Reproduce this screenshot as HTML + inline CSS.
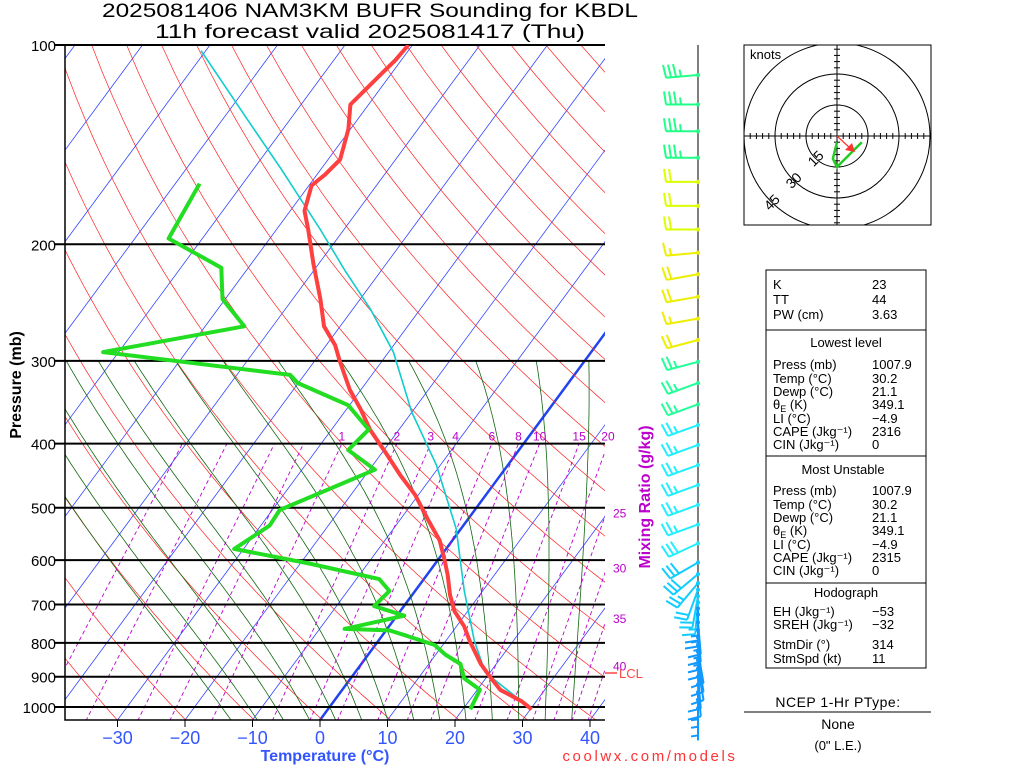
<!DOCTYPE html>
<html><head><meta charset="utf-8"><style>
html,body{margin:0;padding:0;background:#fff;}
svg{display:block;font-family:"Liberation Sans",sans-serif;}
</style></head><body>
<svg id="chart" width="1024" height="768" viewBox="0 0 1024 768" xmlns="http://www.w3.org/2000/svg">
<rect x="0" y="0" width="1024" height="768" fill="#fff"/>
<defs><clipPath id="plotclip"><rect x="65" y="45" width="540" height="675"/></clipPath>
<clipPath id="hodoclip"><rect x="744" y="45" width="187" height="180"/></clipPath></defs>
<g id="bg" clip-path="url(#plotclip)"></g>
<g id="grid"></g>
<g id="series" clip-path="url(#plotclip)"></g>
<g id="labels"></g>
<g id="winds"></g>
<g id="hodo"></g>
<text x="370" y="17" text-anchor="middle" font-size="19" textLength="536" lengthAdjust="spacingAndGlyphs">2025081406 NAM3KM BUFR Sounding for KBDL</text>
<text x="370" y="38" text-anchor="middle" font-size="19" textLength="430" lengthAdjust="spacingAndGlyphs">11h forecast valid 2025081417 (Thu)</text>
<text transform="translate(21,385) rotate(-90)" text-anchor="middle" font-size="16" font-weight="bold">Pressure (mb)</text>
<text x="325" y="761" text-anchor="middle" font-size="16" font-weight="bold" fill="#3355ff">Temperature (°C)</text>
<text x="650" y="761" text-anchor="middle" font-size="15" fill="#ff3333" letter-spacing="2.6">coolwx.com/models</text>
<text transform="translate(650,497) rotate(-90)" text-anchor="middle" font-size="16" font-weight="bold" fill="#bb00cc">Mixing Ratio (g/kg)</text>
<line x1="605" y1="673" x2="617" y2="673" stroke="#ff4444" stroke-width="1.5"/>
<text x="619" y="678" font-size="13" fill="#ff4444">LCL</text>
<g id="infobox" font-size="13">
<rect x="766" y="270" width="160" height="398" fill="none" stroke="#000" stroke-width="1"/>
<line x1="766" y1="330" x2="926" y2="330" stroke="#000"/>
<line x1="766" y1="456" x2="926" y2="456" stroke="#000"/>
<line x1="766" y1="583" x2="926" y2="583" stroke="#000"/>
<text x="773" y="289">K</text><text x="872" y="289">23</text>
<text x="773" y="304">TT</text><text x="872" y="304">44</text>
<text x="773" y="319">PW (cm)</text><text x="872" y="319">3.63</text>
<text x="846" y="347" text-anchor="middle">Lowest level</text>
<text x="773" y="369">Press (mb)</text><text x="872" y="369">1007.9</text>
<text x="773" y="383">Temp (°C)</text><text x="872" y="383">30.2</text>
<text x="773" y="396">Dewp (°C)</text><text x="872" y="396">21.1</text>
<text x="773" y="409">θ<tspan font-size="9" dy="3">E</tspan><tspan dy="-3"> (K)</tspan></text><text x="872" y="409">349.1</text>
<text x="773" y="423">LI (°C)</text><text x="872" y="423">−4.9</text>
<text x="773" y="436">CAPE (Jkg⁻¹)</text><text x="872" y="436">2316</text>
<text x="773" y="449">CIN (Jkg⁻¹)</text><text x="872" y="449">0</text>
<text x="843" y="474" text-anchor="middle">Most Unstable</text>
<text x="773" y="495">Press (mb)</text><text x="872" y="495">1007.9</text>
<text x="773" y="509">Temp (°C)</text><text x="872" y="509">30.2</text>
<text x="773" y="522">Dewp (°C)</text><text x="872" y="522">21.1</text>
<text x="773" y="535">θ<tspan font-size="9" dy="3">E</tspan><tspan dy="-3"> (K)</tspan></text><text x="872" y="535">349.1</text>
<text x="773" y="549">LI (°C)</text><text x="872" y="549">−4.9</text>
<text x="773" y="562">CAPE (Jkg⁻¹)</text><text x="872" y="562">2315</text>
<text x="773" y="575">CIN (Jkg⁻¹)</text><text x="872" y="575">0</text>
<text x="846" y="597" text-anchor="middle">Hodograph</text>
<text x="773" y="616">EH (Jkg⁻¹)</text><text x="872" y="616">−53</text>
<text x="773" y="629">SREH (Jkg⁻¹)</text><text x="872" y="629">−32</text>
<text x="773" y="649">StmDir (°)</text><text x="872" y="649">314</text>
<text x="773" y="663">StmSpd (kt)</text><text x="872" y="663">11</text>
</g>
<text x="838" y="707" text-anchor="middle" font-size="14" letter-spacing="0.5">NCEP 1-Hr PType:</text>
<line x1="744" y1="712" x2="931" y2="712" stroke="#000"/>
<text x="838" y="729" text-anchor="middle" font-size="14">None</text>
<text x="838" y="750" text-anchor="middle" font-size="13">(0" L.E.)</text>
<script>
// ---- data ----
const tempP = [1008,980,942,905,861,794,755,716,677,632,600,560,522,478,446,414,381,355,332,300,284,266,242,214,190,178,163,157,149,134,123,117,111,105.5,100];
const tempT = [30.2,27.8,23.4,20.8,17.7,13.5,11.1,8.0,5.6,3.1,1.0,-1.9,-5.8,-10.5,-14.9,-19.3,-24.3,-27.9,-31.6,-36.3,-38.7,-42.4,-45.9,-50.8,-55.3,-57.9,-59.6,-58.8,-58.2,-60.3,-62.7,-62.1,-61.5,-60.9,-60.6];
const dewP = [1008,942,905,861,833,806,779,766,762,728,704,668,641,607,577,532,504,438,409,381,350,324,315,291,266,242,217,196,162];
const dewT = [21.1,20.4,16.8,14.7,11.4,8.8,3.3,0.5,-6.3,1.1,-4.4,-3.8,-6.6,-18.7,-31.4,-28.7,-28.9,-19.2,-25.3,-24.5,-30.2,-40.1,-42.1,-72.3,-54.2,-60.4,-64.0,-75.0,-76.4];
const parcelP = [1008,887,794,668,538,431,358,291,251,219,190,154,129,102];
const parcelT = [30.2,19.3,14.2,7.3,-0.7,-10.6,-20.1,-29.3,-37.3,-45.4,-53.5,-65.9,-76.6,-90.7];
const pLevels = [100,200,300,400,500,600,700,800,900,1000];
const tTicks = [-30,-20,-10,0,10,20,30,40];
const mixRatios = [1,2,3,4,6,8,10,15,20,25,30,35,40];
const windP = [111,123,135,148,161,175,190,206,222,240,259,279,301,324,349,375,402,431,462,495,530,566,605,630,650,665,680,695,710,725,745,765,785,805,825,850,875,900,925,950,975,1005];
const windSpd = [35,35,35,35,20,20,20,15,20,20,15,20,25,25,25,25,25,25,25,25,25,30,30,30,25,20,20,15,15,15,15,15,15,10,10,10,10,10,10,5,5,5];
const windDir = [265,270,270,270,270,270,270,265,260,260,260,255,255,250,250,250,250,250,250,250,250,245,240,230,220,200,190,185,180,180,175,175,175,175,170,170,170,175,175,180,180,180];
const hodoU = [0,-2,0,7,12];
const hodoV = [-3,-11,-15,-8,-3];

// ---- axes ----
const NS='http://www.w3.org/2000/svg';
function yP(p){return 45+662*Math.log10(p/100);}
function xT(T,p){return 320+6.75*T+(720-yP(p))*0.737;}
function mk(tag,attrs,parent){const e=document.createElementNS(NS,tag);for(const k in attrs)e.setAttribute(k,attrs[k]);parent.appendChild(e);return e;}
function pathOf(ps,ts){return ps.map((p,i)=>(i?'L':'M')+xT(ts[i],p).toFixed(1)+','+yP(p).toFixed(1)).join('');}
const bg=document.getElementById('bg'), grid=document.getElementById('grid'), series=document.getElementById('series'), labels=document.getElementById('labels');

for(let T=-160;T<=40;T+=10){
  const l=mk('line',{x1:xT(T,1050),y1:yP(1050),x2:xT(T,100),y2:yP(100),stroke:T===0?'#2244ee':'#3344ff','stroke-width':T===0?2.5:0.8},bg);
  
  
}
for(let th=200;th<=600;th+=10){
  let d='';for(let p=1050;p>=100;p-=10){const T=th*Math.pow(p/1000,0.286)-273.15;d+=(p===1050?'M':'L')+xT(T,p).toFixed(1)+','+yP(p).toFixed(1);}
  const e=mk('path',{d:d,fill:'none',stroke:'#ff2222','stroke-width':0.7},bg);
  
  
}
function es(Tc){return 6.112*Math.exp(17.67*Tc/(Tc+243.5));}
function moistLapse(T,p){const Tc=T-273.15;const e=es(Tc);const rs=0.622*e/(p-e);const Rd=287,Lv=2.5e6,Cp=1004;return ((Rd*T+Lv*rs)/(Cp+Lv*Lv*rs*0.622/(Rd*T*T)))/p;}
for(let tw=-16;tw<=36;tw+=4){
  let T=tw+273.15;let pts=[[1000,T]];
  let Td=T;for(let p=1000;p<1050;p+=5){Td+=moistLapse(Td,p)*5;}pts.unshift([1050,Td]);
  for(let p=1000;p>300;p-=5){T-=moistLapse(T,p)*5;pts.push([p-5,T]);}
  const d=pts.map((q,i)=>(i?'L':'M')+xT(q[1]-273.15,q[0]).toFixed(1)+','+yP(q[0]).toFixed(1)).join('');
  const e=mk('path',{d:d,fill:'none',stroke:'#116611','stroke-width':0.8},bg);
  
  
}
function tdFromW(w,p){const e=w/1000*p/(0.622+w/1000);const a=Math.log(e/6.112);return 243.5*a/(17.67-a)+0.6+0.55*Math.log(w);}
[0.1,0.2,0.4,0.6].concat(mixRatios).forEach(w=>{
  const d='M'+xT(tdFromW(w,1050),1050).toFixed(1)+','+yP(1050).toFixed(1)+'L'+xT(tdFromW(w,400),400).toFixed(1)+','+yP(400).toFixed(1);
  const e=mk('path',{d:d,fill:'none',stroke:'#bb00cc','stroke-width':0.9,'stroke-dasharray':'4,3'},bg);
  
  
});
mixRatios.forEach(w=>{
  let x=xT(tdFromW(w,400),400), y=yP(400)-3, anchor='middle';
  if(x>610){
    let p=400;while(p<1050&&xT(tdFromW(w,p),p)>605)p+=2; x=613;y=yP(p)+4;anchor='start';}
  const t=mk('text',{x:x,y:y,'text-anchor':anchor,'font-size':12,fill:'#bb00cc'},labels);t.textContent=w;
  
  
});
pLevels.forEach(p=>{
  const y=yP(p);
  const l=mk('line',{x1:55,y1:y,x2:605,y2:y,stroke:'#000','stroke-width':2},grid);
  
  
  const t=mk('text',{x:56,y:y+6,'text-anchor':'end','font-size':15},labels);t.textContent=p;
  
  
});
const ax=mk('path',{d:'M65,45L65,720L605,720',fill:'none',stroke:'#000','stroke-width':1.5},grid);


tTicks.forEach(T=>{
  const x=320+6.75*T;
  const tk=mk('line',{x1:x,y1:720,x2:x,y2:727,stroke:'#000'},grid);
  
  
  const t=mk('text',{x:x,y:744,'text-anchor':'middle','font-size':18,fill:'#3355ff'},labels);t.textContent=T<0?'\u2212'+(-T):T;
  
  
});
const sp=mk('path',{d:pathOf(parcelP,parcelT),fill:'none',stroke:'#11cccc','stroke-width':1.6},series);


const st=mk('path',{d:pathOf(tempP,tempT),fill:'none',stroke:'#ff4040','stroke-width':4,'stroke-linejoin':'round'},series);


const sd=mk('path',{d:pathOf(dewP,dewT),fill:'none',stroke:'#22dd22','stroke-width':4,'stroke-linejoin':'round'},series);



const winds=document.getElementById('winds');
const wl=mk('line',{x1:698,y1:45,x2:698,y2:715,stroke:'#555','stroke-width':1.5},winds);


function windColor(p){
  if(p<160)return '#22ff88'; if(p<280)return p<200?'#ddff00':'#eeee00'; if(p<300)return '#aaff22';
  if(p<360)return '#22ff99'; if(p<600)return '#22eeff'; if(p<700)return '#11ccff'; return '#1199ff';}
windP.forEach((p,i)=>{
  const y=yP(p),d=windDir[i]*Math.PI/180,s=windSpd[i],c=windColor(p);
  const ux=Math.sin(d),uy=-Math.cos(d),fx=-uy,fy=ux,L=32;
  const g=mk('g',{stroke:c,'stroke-width':2,fill:c},winds);
  
  
  const ex=698+ux*L,ey=y+uy*L;
  mk('line',{x1:698,y1:y,x2:ex,y2:ey},g);
  mk('circle',{cx:698,cy:y,r:2,stroke:'none'},g);
  let rem=Math.round(s/5)*5,k=0;
  while(rem>=10){const bx=ex-ux*k*5,by=ey-uy*k*5;mk('line',{x1:bx,y1:by,x2:bx+fx*13+ux*2,y2:by+fy*13+uy*2},g);rem-=10;k++;}
  if(rem>=5){if(k===0)k=1;const bx=ex-ux*k*5,by=ey-uy*k*5;mk('line',{x1:bx,y1:by,x2:bx+fx*7+ux*1,y2:by+fy*7+uy*1},g);}
});

const hodo=document.getElementById('hodo');
const cx=837,cy=136,sc=31/15;
mk('rect',{x:744,y:45,width:187,height:180,fill:'#fff',stroke:'#000','stroke-width':1},hodo);
const hc=mk('g',{'clip-path':'url(#hodoclip)'},hodo);
[15,30,45].forEach(r=>{mk('circle',{cx:cx,cy:cy,r:r*sc,fill:'none',stroke:'#000','stroke-width':1},hc);});
mk('line',{x1:744,y1:cy,x2:931,y2:cy,stroke:'#000'},hc);
mk('line',{x1:cx,y1:45,x2:cx,y2:225,stroke:'#000'},hc);
for(let k=-45;k<=45;k+=3){if(!k)continue;const o=k*sc;
  mk('line',{x1:cx+o,y1:cy-3,x2:cx+o,y2:cy+3,stroke:'#000'},hc);
  mk('line',{x1:cx-3,y1:cy+o,x2:cx+3,y2:cy+o,stroke:'#000'},hc);}
[15,30,45].forEach(r=>{const a=r*sc*0.7071;const t=mk('text',{transform:'translate('+(cx-a+4)+','+(cy+a+4)+') rotate(-45)','text-anchor':'middle','font-size':14},hodo);t.textContent=r;
  
  });
const kt=mk('text',{x:750,y:59,'font-size':13},hodo);kt.textContent='knots';


const hp=mk('path',{d:hodoU.map((u,i)=>(i?'L':'M')+(cx+u*sc)+','+(cy-hodoV[i]*sc)).join(''),fill:'none',stroke:'#22cc22','stroke-width':2.5},hodo);


const ar=mk('g',{},hodo);


mk('line',{x1:cx,y1:cy,x2:851,y2:149,stroke:'#ff3333','stroke-width':1.2},ar);
mk('polygon',{points:'855,152 845,150 852,143',fill:'#ff3333'},ar);
</script>
</svg>
</body></html>
